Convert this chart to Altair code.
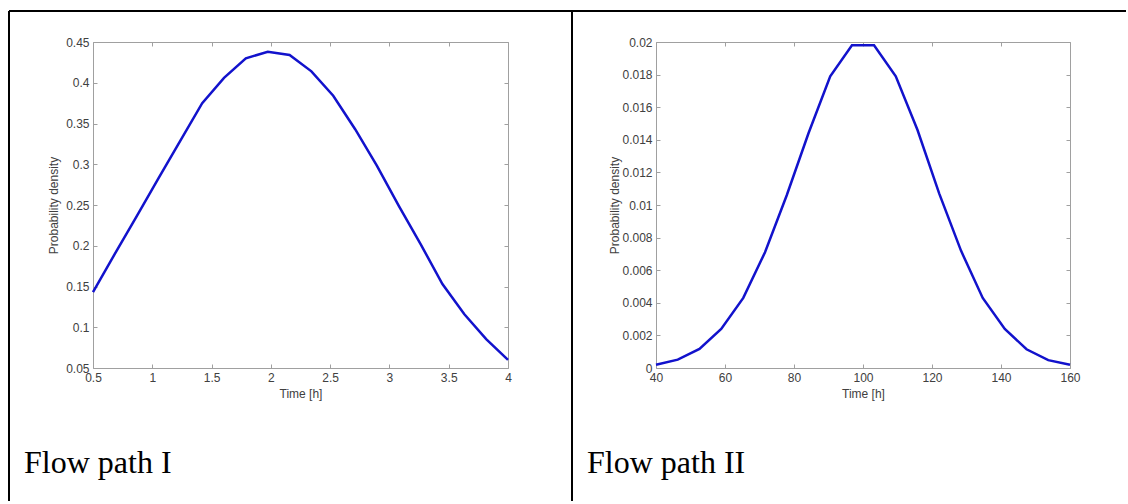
import altair as alt
import pandas as pd

# ---- data ----
time_1 = [0.5, 0.684, 0.868, 1.053, 1.237, 1.421, 1.605, 1.789, 1.974, 2.158,
          2.342, 2.526, 2.711, 2.895, 3.079, 3.263, 3.447, 3.632, 3.816, 4.0]
dens_1 = [0.143, 0.190, 0.236, 0.283, 0.329, 0.375, 0.406, 0.430, 0.438, 0.434,
          0.414, 0.384, 0.343, 0.298, 0.249, 0.202, 0.153, 0.116, 0.0855, 0.060]

time_2 = [40, 46.3, 52.6, 58.9, 65.3, 71.6, 77.9, 84.2, 90.5, 96.8,
          103.2, 109.5, 115.8, 122.1, 128.4, 134.7, 141.1, 147.4, 153.7, 160]
dens_2 = [0.0002, 0.00051, 0.00117, 0.0024, 0.0043, 0.0071, 0.0106, 0.0144, 0.0179, 0.0198,
          0.0198, 0.0179, 0.0146, 0.0107, 0.0072, 0.0043, 0.0024, 0.00115, 0.00048, 0.0002]

x_ticks_1 = [0.5, 1, 1.5, 2, 2.5, 3, 3.5, 4]
y_ticks_1 = [0.05, 0.1, 0.15, 0.2, 0.25, 0.3, 0.35, 0.4, 0.45]
x_ticks_2 = [40, 60, 80, 100, 120, 140, 160]
y_ticks_2 = [0, 0.002, 0.004, 0.006, 0.008, 0.01, 0.012, 0.014, 0.016, 0.018, 0.02]

captions = ["Flow path I", "Flow path II"]
x_title = "Time [h]"
y_title = "Probability density"

# ---- styling ----
W1, W2, H = 415, 414, 326
AX = "#a0a0a0"
LAB = "#404040"
FONT = "Liberation Sans"
LINE = "#1212cc"


def panel(t, p, xdom, ydom, xt, yt, W, ytitle_x, caption, with_borders):
    df = pd.DataFrame({"t": t, "p": p})
    base = alt.Chart(df)
    xs = alt.Scale(domain=xdom, nice=False, zero=False)
    ys = alt.Scale(domain=ydom, nice=False, zero=False)

    main = base.mark_line(color=LINE, strokeWidth=2.5).encode(
        x=alt.X("t:Q", scale=xs, axis=alt.Axis(
            orient="bottom", values=xt, format="~r", ticks=False, tickSize=0,
            domain=False, grid=False, labelPadding=4, labelFlush=False,
            labelOverlap=False, labelFont=FONT, labelFontSize=12, labelColor=LAB,
            title=x_title, titleFont=FONT, titleFontSize=12, titleFontWeight="normal",
            titleColor=LAB, titleX=W / 2, titleY=29, titleBaseline="alphabetic")),
        y=alt.Y("p:Q", scale=ys, axis=alt.Axis(
            orient="left", values=yt, format="~r", ticks=False, tickSize=0,
            domain=False, grid=False, labelPadding=4, labelFlush=False,
            labelOverlap=False, labelFont=FONT, labelFontSize=12, labelColor=LAB,
            title=y_title, titleFont=FONT, titleFontSize=12, titleFontWeight="normal",
            titleColor=LAB, titleX=ytitle_x, titleY=H / 2, titleBaseline="alphabetic")),
    )

    def tick_layer(xo, yo):
        return base.mark_line(opacity=0).encode(
            x=alt.X("t:Q", scale=xs, axis=alt.Axis(
                orient=xo, offset=-H, values=xt, labels=False, domain=False,
                grid=False, ticks=True, tickSize=4, tickColor=AX, title=None)),
            y=alt.Y("p:Q", scale=ys, axis=alt.Axis(
                orient=yo, offset=-W, values=yt, labels=False, domain=False,
                grid=False, ticks=True, tickSize=4, tickColor=AX, title=None)),
        )

    one = alt.Chart(pd.DataFrame({"k": [0]}))
    cap = one.mark_text(align="left", baseline="alphabetic", font="Liberation Serif",
                        fontSize=32, color="black", text=caption).encode(
        x=alt.value(-69), y=alt.value(431))

    layers = [main, tick_layer("top", "right"), tick_layer("bottom", "left"), cap]
    if with_borders:
        layers.append(one.mark_rule(color="black", strokeWidth=2).encode(
            x=alt.value(-84), y=alt.value(-31), y2=alt.value(459)))
        layers.append(one.mark_rule(color="black", strokeWidth=2).encode(
            x=alt.value(479), y=alt.value(-31), y2=alt.value(459)))
        layers.append(one.mark_rule(color="black", strokeWidth=2).encode(
            y=alt.value(-31), x=alt.value(-84), x2=alt.value(1033)))

    return alt.layer(*layers).resolve_axis(x="independent", y="independent").properties(
        width=W, height=H)


p1 = panel(time_1, dens_1, [0.5, 4], [0.05, 0.45], x_ticks_1, y_ticks_1, W1, -36,
           captions[0], True)
p2 = panel(time_2, dens_2, [40, 160], [0, 0.02], x_ticks_2, y_ticks_2, W2, -38,
           captions[1], False)

chart = alt.hconcat(p1, p2, spacing=148, bounds="flush").properties(
    padding={"left": 7, "top": 9, "right": 0, "bottom": 0},
    background="white",
).configure_view(stroke=AX, strokeWidth=1)

chart.save("out.html", embed_options={"renderer": "svg", "actions": False})
